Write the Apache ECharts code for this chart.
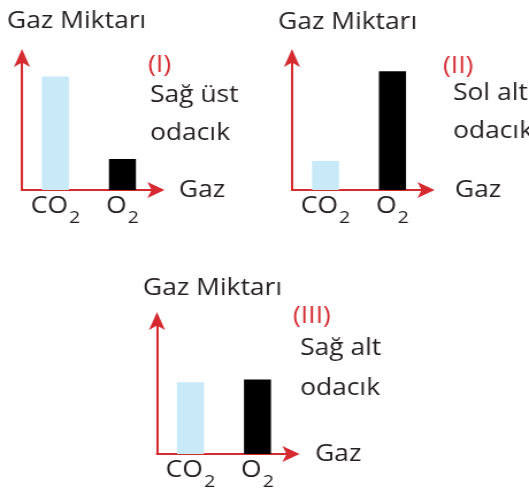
<!DOCTYPE html>
<html>
<head>
<meta charset="utf-8">
<script src="https://cdn.jsdelivr.net/npm/echarts@6/dist/echarts.min.js"></script>
<style>
  html, body { margin: 0; padding: 0; background: #fff; overflow: hidden; }
  /* the source picture is a bit wider than tall, so stretch the whole chart */
  #chart { width: 460px; height: 496px; transform: scaleX(1.15); transform-origin: 0 0; }
</style>
</head>
<body>
<div id="chart"></div>
<script>
// data
const categories = ['CO2', 'O2'];
const co2Values = [8.6, 2.2, 5.4];
const o2Values = [2.35, 9.0, 5.6];
const panelNames = ['(I)', '(II)', '(III)'];
const panelRooms = ['Sağ üst\nodacık', 'Sol alt\nodacık', 'Sağ alt\nodacık'];
const yTitle = 'Gaz Miktarı';
const xTitle = 'Gaz';

const barColors = ['#c8e9f8', '#000000'];
const red = '#d42a30';
const ink = '#231f20';
const font = '"Open Sans", sans-serif';

// layout of the three small panels (chart pixels, before the stretch)
const panels = [
  { left: 19.1, top: 58, height: 132, nameGap: 20, titleX: 6.1, titleY: 21.5, romanX: 128.7, romanY: 65.5, roomX: 130.4, roomY: 76.2, roomLH: 38 },
  { left: 253.9, top: 58, height: 132, nameGap: 25.2, titleX: 241.7, titleY: 22, romanX: 385.2, romanY: 66, roomX: 393.9, roomY: 74.2, roomLH: 38 },
  { left: 136.5, top: 321, height: 133, nameGap: 20.9, titleX: 124.3, titleY: 288.5, romanX: 254.8, romanY: 316.7, roomX: 260.9, roomY: 328.2, roomLH: 40 }
];

const chart = echarts.init(document.getElementById('chart'));

const grids = [], xAxes = [], yAxes = [], series = [], texts = [];

panels.forEach(function (p, i) {
  grids.push({ left: p.left, top: p.top, width: 116.5, height: p.height });

  xAxes.push({
    type: 'category',
    gridIndex: i,
    data: categories,
    name: xTitle,
    nameLocation: 'end',
    nameGap: p.nameGap,
    nameTextStyle: { fontFamily: font, fontSize: 23, color: ink, padding: [8, 0, 0, 0] },
    axisLine: {
      lineStyle: { color: red, width: 2 },
      symbol: ['none', 'arrow'],
      symbolSize: [12, 15],
      symbolOffset: [0, 7.5]
    },
    axisTick: { show: false },
    axisLabel: {
      interval: 0,
      margin: 5,
      formatter: function (v) {
        return v.replace(/^(\D+)(\d)$/, '{m|$1}{s|$2}');
      },
      rich: {
        m: { fontFamily: font, fontSize: 23, lineHeight: 25, color: ink, verticalAlign: 'top' },
        s: { fontFamily: font, fontSize: 17, lineHeight: 19, color: ink, padding: [22, 0, 0, 1] }
      }
    }
  });

  yAxes.push({
    type: 'value',
    gridIndex: i,
    min: 0,
    max: 10,
    axisLine: {
      show: true,
      lineStyle: { color: red, width: 2 },
      symbol: ['none', 'arrow'],
      symbolSize: [10.5, 18],
      symbolOffset: [0, 9]
    },
    axisTick: { show: false },
    axisLabel: { show: false },
    splitLine: { show: false }
  });

  series.push({
    type: 'bar',
    xAxisIndex: i,
    yAxisIndex: i,
    barWidth: 23.5,
    silent: true,
    data: [co2Values[i], o2Values[i]].map(function (v, j) {
      return { value: v, itemStyle: { color: barColors[j] } };
    })
  });

  texts.push(
    { type: 'text', x: p.titleX, y: p.titleY, style: { text: yTitle, font: '23px ' + font, fill: ink, verticalAlign: 'middle' } },
    { type: 'text', x: p.romanX, y: p.romanY, style: { text: panelNames[i], font: '23px ' + font, fill: red, verticalAlign: 'middle' } },
    { type: 'text', x: p.roomX, y: p.roomY, style: { text: panelRooms[i], font: '23px ' + font, fill: ink, lineHeight: p.roomLH, verticalAlign: 'top' } }
  );
});

chart.setOption({
  animation: false,
  grid: grids,
  xAxis: xAxes,
  yAxis: yAxes,
  series: series,
  graphic: texts
});
</script>
</body>
</html>
